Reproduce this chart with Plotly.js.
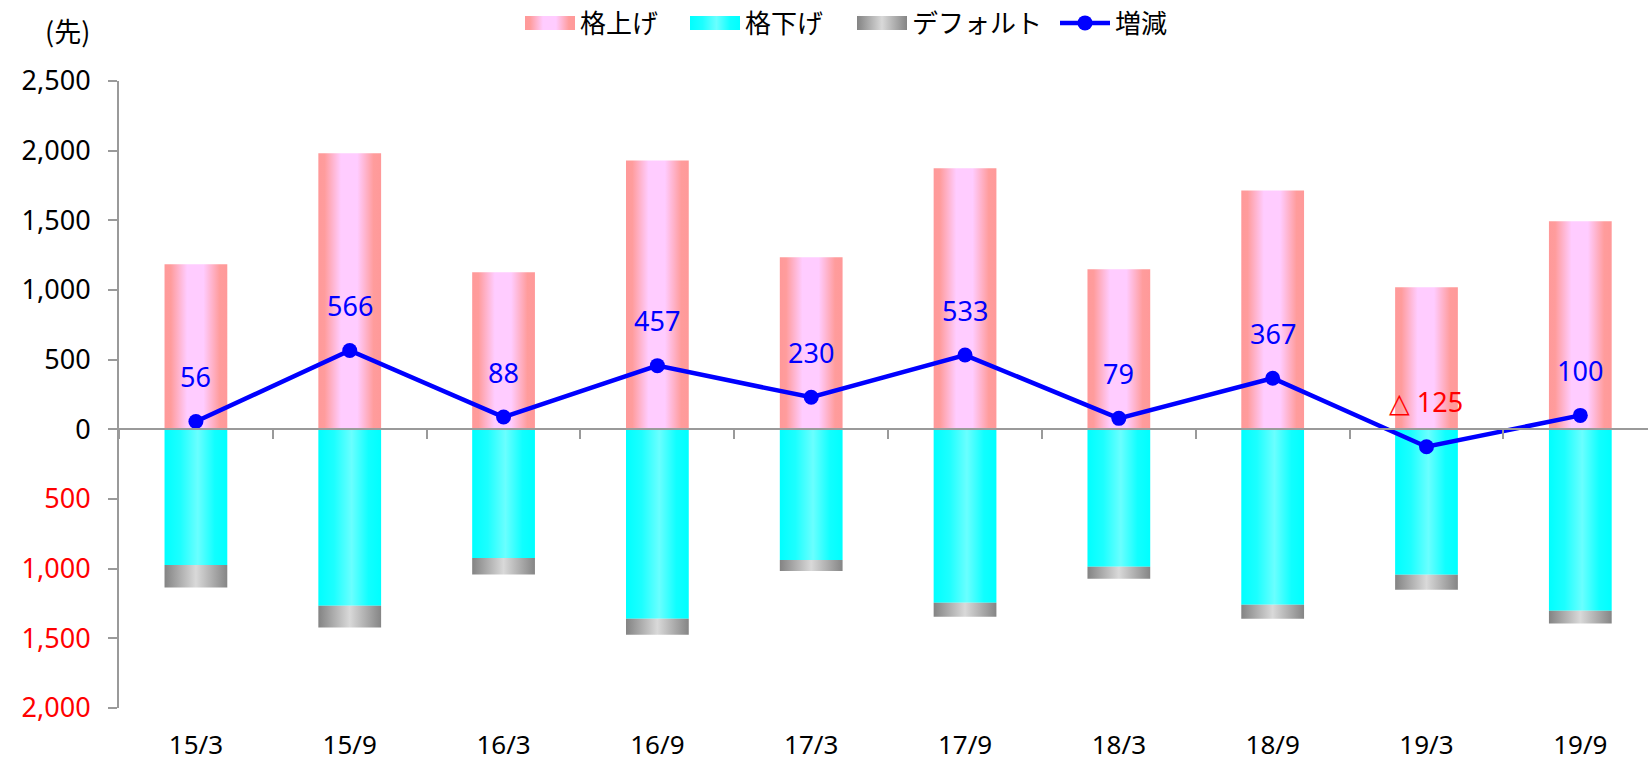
<!DOCTYPE html>
<html>
<head>
<meta charset="utf-8">
<script src="https://cdn.plot.ly/plotly-3.0.1.min.js"></script>
<style>
  html, body { margin: 0; padding: 0; background: #ffffff; }
  #chart { width: 1648px; height: 761px; }
</style>
</head>
<body>
<div id="chart"></div>
<script>
// ---- data ----
const categories = ['15/3', '15/9', '16/3', '16/9', '17/3', '17/9', '18/3', '18/9', '19/3', '19/9'];
const upgrades   = [1185, 1981, 1128, 1930, 1235, 1873, 1149, 1715, 1020, 1493];
const downgrades = [973, 1267, 923, 1360, 937, 1245, 987, 1259, 1044, 1302];
const defaults   = [162, 155, 119, 115, 79, 100, 86, 101, 108, 91];
const netChange  = [56, 566, 88, 457, 230, 533, 79, 367, -125, 100];
const yTickVals   = [-2000, -1500, -1000, -500, 0, 500, 1000, 1500, 2000, 2500];
const yTickLabels = ['2,000', '1,500', '1,000', '500', '0', '500', '1,000', '1,500', '2,000', '2,500'];
const seriesNames = ['格上げ', '格下げ', 'デフォルト', '増減'];
const unitLabel = '(先)';

// ---- styles ----
const NUM_FONT = '"Noto Sans", "DejaVu Sans", sans-serif';
const JP_FONT = '"Noto Sans CJK JP", "Noto Sans", sans-serif';
const AXIS_GREY = '#9a9a9a';
const yMin = -2000, yMax = 2500;
// base (flat) colours, used to recognise each bar series' legend swatch
const baseColors = ['rgb(255,204,255)', 'rgb(51,255,255)', 'rgb(176,176,176)'];

const tickText = yTickLabels.map((t, i) =>
  yTickVals[i] < 0 ? '<span style="color:#FF0000">' + t + '</span>' : t);

const traces = [
  { type: 'bar', x: categories, y: upgrades, name: seriesNames[0], legend: 'legend',
    marker: { color: baseColors[0], line: { width: 0 } }, hoverinfo: 'skip' },
  { type: 'bar', x: categories, y: downgrades.map(v => -v), name: seriesNames[1], legend: 'legend2',
    marker: { color: baseColors[1], line: { width: 0 } }, hoverinfo: 'skip' },
  { type: 'bar', x: categories, y: defaults.map(v => -v), name: seriesNames[2], legend: 'legend3',
    marker: { color: baseColors[2], line: { width: 0 } }, hoverinfo: 'skip' },
  { type: 'scatter', mode: 'lines+markers', x: categories, y: netChange, name: seriesNames[3], legend: 'legend4',
    xaxis: 'x2', yaxis: 'y',
    line: { color: '#0000FF', width: 4.5 },
    marker: { color: '#0000FF', size: 15 }, hoverinfo: 'skip' }
];

const annotations = netChange.map((v, i) => ({
  x: categories[i], y: v, xref: 'x', yref: 'y', showarrow: false,
  yshift: 45, xanchor: 'center', yanchor: 'middle',
  text: v < 0 ? '△ ' + Math.abs(v) : String(v),
  font: { family: NUM_FONT, size: 27, color: v < 0 ? '#FF0000' : '#0000FF' }
}));
annotations.push({
  text: unitLabel, xref: 'paper', yref: 'paper', x: -0.034, y: 1.081,
  xanchor: 'center', yanchor: 'middle', showarrow: false,
  font: { family: JP_FONT, size: 27, color: '#000000' }
});

function legendAt(px) {
  return {
    orientation: 'h', xref: 'container', yref: 'container',
    x: px / 1648, xanchor: 'left', y: 1 - 23 / 761, yanchor: 'middle',
    itemwidth: 50,
    font: { family: JP_FONT, size: 26, color: '#000000' },
    bgcolor: 'rgba(0,0,0,0)'
  };
}

const xRange = [-0.5, 9.44];
const layout = {
  width: 1648, height: 761,
  margin: { l: 119, r: 0, t: 81, b: 53, pad: 0 },
  paper_bgcolor: '#ffffff', plot_bgcolor: '#ffffff',
  barmode: 'relative', bargap: 0.592,
  showlegend: true,
  legend: legendAt(520),
  legend2: legendAt(685),
  legend3: legendAt(852),
  legend4: legendAt(1055),
  xaxis: {
    type: 'category', categoryorder: 'array', categoryarray: categories,
    range: xRange, showline: false, ticks: '', showgrid: false, zeroline: false,
    tickfont: { family: NUM_FONT, size: 26, color: '#000000' },
    ticklabelstandoff: 19, fixedrange: true
  },
  xaxis2: {
    type: 'category', categoryorder: 'array', categoryarray: categories,
    overlaying: 'x', anchor: 'free', position: (0 - yMin) / (yMax - yMin), side: 'bottom',
    range: xRange, showline: true, linecolor: AXIS_GREY, linewidth: 2,
    ticks: 'outside', tickson: 'boundaries', ticklen: 9, tickwidth: 2, tickcolor: AXIS_GREY,
    showticklabels: false, showgrid: false, zeroline: false, fixedrange: true
  },
  yaxis: {
    range: [yMin, yMax], tickmode: 'array', tickvals: yTickVals, ticktext: tickText,
    showline: true, linecolor: AXIS_GREY, linewidth: 2,
    ticks: 'outside', ticklen: 9, tickwidth: 2, tickcolor: AXIS_GREY,
    showgrid: false, zeroline: false,
    tickfont: { family: NUM_FONT, size: 27, color: '#000000' },
    ticklabelstandoff: 12, fixedrange: true
  },
  annotations: annotations
};

const NS = 'http://www.w3.org/2000/svg';
const grads = {
  gPink: [[0, '#FF9999'], [0.1, '#FF9C9C'], [0.36, '#FFCCFF'], [0.62, '#FFCCFF'], [0.88, '#FF9C9C'], [1, '#FF9999']],
  gCyan: [[0, '#00FFFF'], [0.25, '#1CFFFF'], [0.53, '#6AFFFF'], [0.8, '#10FFFF'], [1, '#00FFFF']],
  gGrey: [[0, '#838383'], [0.5, '#D9D9D9'], [1, '#858585']]
};
const gradIds = ['gPink', 'gCyan', 'gGrey'];

function norm(c) { return (c || '').replace(/\s+/g, '').toLowerCase(); }

function applyStyling(gd) {
  const svg = gd.querySelector('svg.main-svg');
  if (!svg) return;
  if (!document.getElementById('gPink')) {
    const defs = document.createElementNS(NS, 'defs');
    Object.keys(grads).forEach(id => {
      const lg = document.createElementNS(NS, 'linearGradient');
      lg.setAttribute('id', id);
      lg.setAttribute('x1', '0'); lg.setAttribute('y1', '0');
      lg.setAttribute('x2', '1'); lg.setAttribute('y2', '0');
      grads[id].forEach(s => {
        const st = document.createElementNS(NS, 'stop');
        st.setAttribute('offset', String(s[0]));
        st.setAttribute('stop-color', s[1]);
        lg.appendChild(st);
      });
      defs.appendChild(lg);
    });
    svg.insertBefore(defs, svg.firstChild);
  }
  gd.querySelectorAll('.barlayer .trace').forEach((t, i) => {
    const f = 'url("#' + gradIds[i % 3] + '")';
    t.querySelectorAll('path').forEach(p => {
      if (p.style.fill !== f) p.style.fill = f;
    });
  });
  // legend swatches: recognised by their flat base colour
  gd.querySelectorAll('.legendpoints path').forEach(p => {
    const idx = baseColors.map(norm).indexOf(norm(p.style.fill));
    if (idx < 0) return;
    let bb;
    try { bb = p.getBBox(); } catch (e) { return; }
    if (!bb || bb.width === 0) return;
    const cx = bb.x + bb.width / 2, cy = bb.y + bb.height / 2;
    const w = 50, h = 14;
    p.setAttribute('d', 'M' + (cx - w / 2) + ',' + (cy - h / 2) + 'h' + w + 'v' + h + 'h' + (-w) + 'Z');
    p.style.fill = 'url("#' + gradIds[idx] + '")';
    p.style.stroke = 'none';
  });
}

const gdEl = document.getElementById('chart');
let busy = false;
const observer = new MutationObserver(() => {
  if (busy) return;
  busy = true;
  try { applyStyling(gdEl); } finally { busy = false; }
});
observer.observe(gdEl, { childList: true, subtree: true });

Plotly.newPlot(gdEl, traces, layout, { staticPlot: true, displayModeBar: false }).then(gd => {
  applyStyling(gd);
  gd.on('plotly_afterplot', () => applyStyling(gd));
  [0, 50, 200, 600].forEach(t => setTimeout(() => applyStyling(gd), t));
});
</script>
</body>
</html>
